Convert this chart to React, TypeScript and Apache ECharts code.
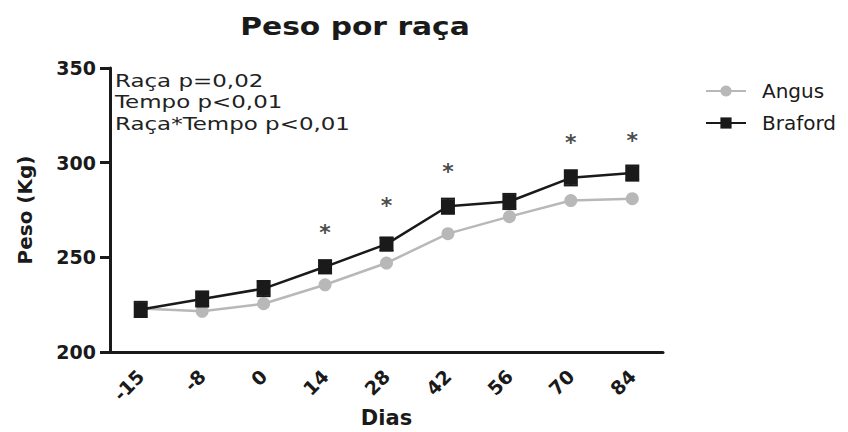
import React, { useEffect, useRef } from "react";
import * as echarts from "echarts";

const days = ["-15", "-8", "0", "14", "28", "42", "56", "70", "84"];
const angus = [223, 221.5, 225.5, 235.5, 247, 262.5, 271.5, 280, 281];
const braford = [222.5, 228, 233.5, 245, 257, 277, 279.5, 292, 294.5];
const brafordErr = [4, 4, 4, 3.5, 3.5, 4, 4, 4, 4];
// height (kg) at which each significance mark stands
const signifY: (number | string)[] = ["-", "-", "-", 266, 280, 298, "-", 313.5, 314.5];
const statLines = ["Raça p=0,02", "Tempo p<0,01", "Raça*Tempo p<0,01"];
const titleText = "Peso por raça";

const FONT = "DejaVu Sans";
const INK = "#1a1a1a";

export default function App() {
  const ref = useRef<HTMLDivElement>(null);

  useEffect(() => {
    if (!ref.current) return;
    const chart = echarts.init(ref.current, null, { renderer: "svg" });
    chart.setOption({
      animation: false,
      backgroundColor: "#ffffff",
      grid: { left: 110, right: 185, top: 68, bottom: 80, containLabel: false, outerBoundsMode: "none" },
      graphic: [
        {
          type: "text",
          x: 355,
          y: 14,
          scaleX: 1.19,
          style: {
            text: titleText,
            font: `bold 25px "${FONT}"`,
            fill: INK,
            textAlign: "center",
            align: "center",
            textVerticalAlign: "top",
            verticalAlign: "top",
          },
        },
        {
          type: "text",
          x: 115,
          y: 70,
          scaleX: 1.35,
          style: {
            text: statLines.join("\n"),
            font: `17px "${FONT}"`,
            lineHeight: 21.7,
            fill: "#222",
            textAlign: "left",
            align: "left",
            textVerticalAlign: "top",
            verticalAlign: "top",
          },
        },
      ],
      legend: {
        orient: "vertical",
        left: 700,
        top: 76,
        itemWidth: 40,
        itemHeight: 14,
        itemGap: 12,
        data: ["Angus", "Braford"],
        textStyle: {
          fontFamily: FONT,
          fontSize: 20,
          lineHeight: 20,
          color: INK,
          padding: [0, 0, 0, 11],
        },
      },
      xAxis: {
        type: "category",
        data: days,
        boundaryGap: true,
        name: "Dias",
        nameLocation: "middle",
        nameGap: 55,
        nameMoveOverlap: false,
        nameTextStyle: { fontFamily: FONT, fontSize: 21, lineHeight: 21, fontWeight: "bold", color: INK },
        axisLine: { lineStyle: { color: INK, width: 3 } },
        axisTick: { alignWithLabel: true, length: 10, lineStyle: { width: 3, color: INK } },
        axisLabel: {
          rotate: 45,
          margin: 21,
          fontFamily: FONT,
          fontSize: 19,
          fontWeight: "bold",
          color: INK,
        },
        splitLine: { show: false },
      },
      yAxis: {
        type: "value",
        min: 200,
        max: 350,
        interval: 50,
        name: "Peso (Kg)",
        nameLocation: "middle",
        nameGap: 75,
        nameMoveOverlap: false,
        nameTextStyle: { fontFamily: FONT, fontSize: 20, fontWeight: "bold", color: INK },
        axisLine: { show: true, lineStyle: { color: INK, width: 3 } },
        axisTick: { show: true, length: 10, lineStyle: { width: 3, color: INK } },
        axisLabel: {
          margin: 14,
          fontFamily: FONT,
          fontSize: 19,
          fontWeight: "bold",
          color: INK,
        },
        splitLine: { show: false },
      },
      series: [
        {
          name: "Angus",
          type: "line",
          data: angus,
          symbol: "circle",
          symbolSize: 13,
          color: "#b8b8b8",
          lineStyle: { width: 2.5, color: "#b8b8b8" },
          itemStyle: { color: "#b8b8b8" },
          z: 2,
        },
        {
          name: "Braford err",
          type: "custom",
          data: days.map((_, i) => [i, braford[i] - brafordErr[i], braford[i] + brafordErr[i]]),
          encode: { x: 0, y: [1, 2] },
          z: 3,
          renderItem: (params: any, api: any) => {
            const i = api.value(0);
            const lo = api.coord([i, api.value(1)]);
            const hi = api.coord([i, api.value(2)]);
            const hw = 7;
            const st = { stroke: INK, lineWidth: 2 };
            return {
              type: "group",
              children: [
                { type: "line", shape: { x1: lo[0], y1: lo[1], x2: hi[0], y2: hi[1] }, style: st },
                { type: "line", shape: { x1: lo[0] - hw, y1: lo[1], x2: lo[0] + hw, y2: lo[1] }, style: st },
                { type: "line", shape: { x1: hi[0] - hw, y1: hi[1], x2: hi[0] + hw, y2: hi[1] }, style: st },
              ],
            };
          },
        },
        {
          name: "Braford",
          type: "line",
          data: braford,
          symbol: "rect",
          symbolSize: 14,
          color: INK,
          lineStyle: { width: 2.5, color: INK },
          itemStyle: { color: INK },
          z: 4,
        },
        {
          name: "sig",
          type: "scatter",
          data: signifY,
          symbolSize: 0,
          silent: true,
          color: INK,
          itemStyle: { color: INK },
          z: 5,
          label: {
            show: true,
            position: "top",
            distance: 0,
            formatter: "*",
            offset: [0, 16],
            fontFamily: FONT,
            fontSize: 22,
            fontWeight: "bold",
            color: INK,
            textBorderWidth: 0,
          },
        },
      ],
    });
    return () => chart.dispose();
  }, []);

  return (
    <div
      ref={ref}
      style={{ position: "fixed", left: 0, top: 0, width: 848, height: 432, background: "#fff" }}
    />
  );
}
